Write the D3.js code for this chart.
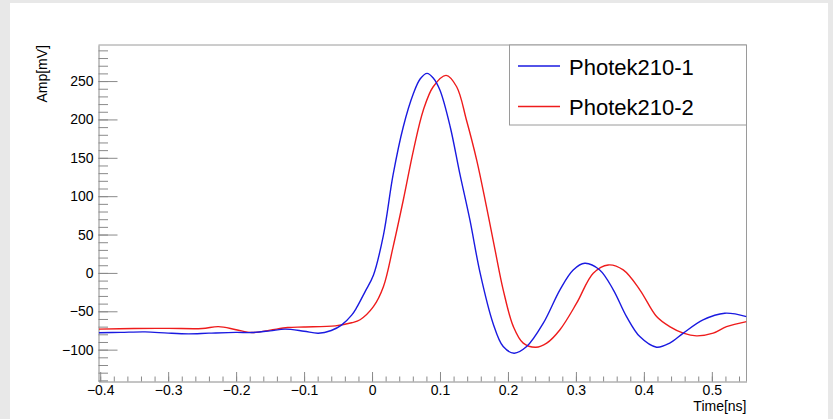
<!DOCTYPE html>
<html>
<head>
<meta charset="utf-8">
<script src="https://cdn.jsdelivr.net/npm/d3@7"></script>
<style>
  body { margin: 0; background: #e8e8e8; }
  svg { display: block; }
  text { font-family: "Liberation Sans", Arial, sans-serif; fill: #000; }
</style>
</head>
<body>
<div id="chart"></div>
<script>
// Photek210-1 (blue), values
const time1 = [-0.402, -0.37, -0.334, -0.3, -0.27, -0.24, -0.2, -0.177, -0.15, -0.128, -0.1, -0.079, -0.06, -0.045, -0.03, -0.0225, -0.01, 0.002, 0.0167, 0.031, 0.046, 0.061, 0.071, 0.081, 0.09, 0.1, 0.115, 0.129, 0.144, 0.159, 0.178, 0.193, 0.209, 0.2275, 0.252, 0.2765, 0.296, 0.313, 0.335, 0.355, 0.3745, 0.394, 0.4187, 0.438, 0.458, 0.487, 0.519, 0.551];
const amp1 = [-78, -77.5, -76.8, -78.5, -79.4, -78.5, -77.5, -77.7, -75.5, -73.3, -76, -78.6, -75, -68, -55, -45, -24, -3, 49, 128, 190.5, 234, 253, 260, 254, 238, 190.5, 130, 69, 0, -65.5, -96, -104.6, -96, -65.5, -22, 3.9, 12.6, 3.9, -22, -56.9, -83, -96.8, -91.5, -78.5, -61.2, -52.5, -56.9];

// Photek210-2 (red)
const time2 = [-0.402, -0.35, -0.3, -0.25, -0.226, -0.2, -0.177, -0.15, -0.124, -0.1, -0.054, -0.03, -0.0176, 0.002, 0.0167, 0.031, 0.046, 0.061, 0.0754, 0.09, 0.109, 0.1245, 0.139, 0.154, 0.168, 0.181, 0.193, 0.208, 0.2225, 0.241, 0.257, 0.2765, 0.301, 0.3255, 0.3475, 0.3696, 0.394, 0.4187, 0.438, 0.458, 0.4775, 0.502, 0.5216, 0.551];
const amp2 = [-73.3, -72.5, -72.3, -72.5, -70, -74, -77.7, -74.5, -71.2, -70.5, -69, -65, -61, -44, -18, 34, 95, 160, 212, 242.6, 257.4, 242.6, 199, 147, 88, 30, -22, -70, -91.5, -96.8, -91.5, -74, -39.5, -0.4, 10.4, 3.9, -22, -56.9, -70, -78.5, -82, -78.5, -70, -63.4];

const seriesNames = ["Photek210-1", "Photek210-2"];
const xTicks = [-0.4, -0.3, -0.2, -0.1, 0, 0.1, 0.2, 0.3, 0.4, 0.5];
const yTicks = [-100, -50, 0, 50, 100, 150, 200, 250];

const W = 833, H = 419;
const plot = {left: 98.5, top: 45, right: 746.5, bottom: 381.5};
const font = "Liberation Sans, Arial, sans-serif";

const svg = d3.select("#chart").append("svg")
    .attr("width", W)
    .attr("height", H);

// white pad on the grey canvas
svg.append("rect")
    .attr("x", 10).attr("y", 3)
    .attr("width", 818).attr("height", H - 3)
    .attr("fill", "#fff");

const x = d3.scaleLinear().domain([-0.4025, 0.551]).range([plot.left, plot.right]);
const y = d3.scaleLinear().domain([-141.5, 297]).range([plot.bottom, plot.top]);

const fmtX = d => d === 0 ? "0" : d3.format(".1f")(d);

// minor ticks first
svg.append("g")
    .attr("transform", `translate(${plot.left},0)`)
    .call(d3.axisLeft(y).tickValues(d3.range(-140, 291, 10)).tickSize(-9.5).tickFormat(""))
    .call(g => g.select(".domain").remove())
    .call(g => g.selectAll("line").attr("stroke", "#8a8a8a"));

svg.append("g")
    .attr("transform", `translate(0,${plot.bottom})`)
    .call(d3.axisBottom(x).tickValues(d3.range(-20, 28).map(i => i * 0.02)).tickSize(-5).tickFormat(""))
    .call(g => g.select(".domain").remove())
    .call(g => g.selectAll("line").attr("stroke", "#8a8a8a"));

// major ticks + labels
const yAxis = svg.append("g")
    .attr("transform", `translate(${plot.left},0)`)
    .call(d3.axisLeft(y).tickValues(yTicks).tickSize(-19).tickPadding(5).tickSizeOuter(0));
yAxis.select(".domain").attr("stroke", "#8a8a8a");
yAxis.selectAll("line").attr("stroke", "#8a8a8a");
yAxis.selectAll("text").attr("font-size", "14px").style("font-family", font);

const xAxis = svg.append("g")
    .attr("transform", `translate(0,${plot.bottom})`)
    .call(d3.axisBottom(x).tickValues(xTicks).tickSize(-9.5).tickPadding(4).tickSizeOuter(0).tickFormat(fmtX));
xAxis.select(".domain").attr("stroke", "#8a8a8a");
xAxis.selectAll("line").attr("stroke", "#8a8a8a");
xAxis.selectAll("text").attr("font-size", "14px").style("font-family", font);

// frame top and right
svg.append("path")
    .attr("d", `M${plot.left},${plot.top}H${plot.right}V${plot.bottom}`)
    .attr("fill", "none")
    .attr("stroke", "#9a9a9a");

// curves
const line = d3.line()
    .x(d => x(d[0]))
    .y(d => y(d[1]))
    .curve(d3.curveCatmullRom.alpha(0.5));

svg.append("clipPath").attr("id", "clip")
    .append("rect")
    .attr("x", plot.left).attr("y", plot.top)
    .attr("width", plot.right - plot.left).attr("height", plot.bottom - plot.top);

svg.append("path")
    .datum(d3.zip(time2, amp2))
    .attr("d", line)
    .attr("clip-path", "url(#clip)")
    .attr("fill", "none")
    .attr("stroke", "#ee1c1c")
    .attr("stroke-width", 1.4);

svg.append("path")
    .datum(d3.zip(time1, amp1))
    .attr("d", line)
    .attr("clip-path", "url(#clip)")
    .attr("fill", "none")
    .attr("stroke", "#1a1ae0")
    .attr("stroke-width", 1.4);

// axis titles
svg.append("text")
    .attr("x", plot.right)
    .attr("y", 411)
    .attr("text-anchor", "end")
    .attr("font-size", "14px")
    .text("Time[ns]");

svg.append("text")
    .attr("transform", `translate(47,${plot.top}) rotate(-90)`)
    .attr("text-anchor", "end")
    .attr("font-size", "14px")
    .text("Amp[mV]");

// legend
const legend = svg.append("g");
legend.append("rect")
    .attr("x", 509.5).attr("y", plot.top)
    .attr("width", plot.right - 509.5).attr("height", 80)
    .attr("fill", "#fff")
    .attr("stroke", "#9a9a9a");

const legendColors = ["#1a1ae0", "#ee1c1c"];
seriesNames.forEach(function (name, i) {
    const cy = 66 + i * 40.5;
    legend.append("line")
        .attr("x1", 518).attr("x2", 560)
        .attr("y1", cy).attr("y2", cy)
        .attr("stroke", legendColors[i])
        .attr("stroke-width", 1.4);
    legend.append("text")
        .attr("x", 569)
        .attr("y", cy + 8.5)
        .attr("font-size", "22px")
        .text(name);
});
</script>
</body>
</html>
